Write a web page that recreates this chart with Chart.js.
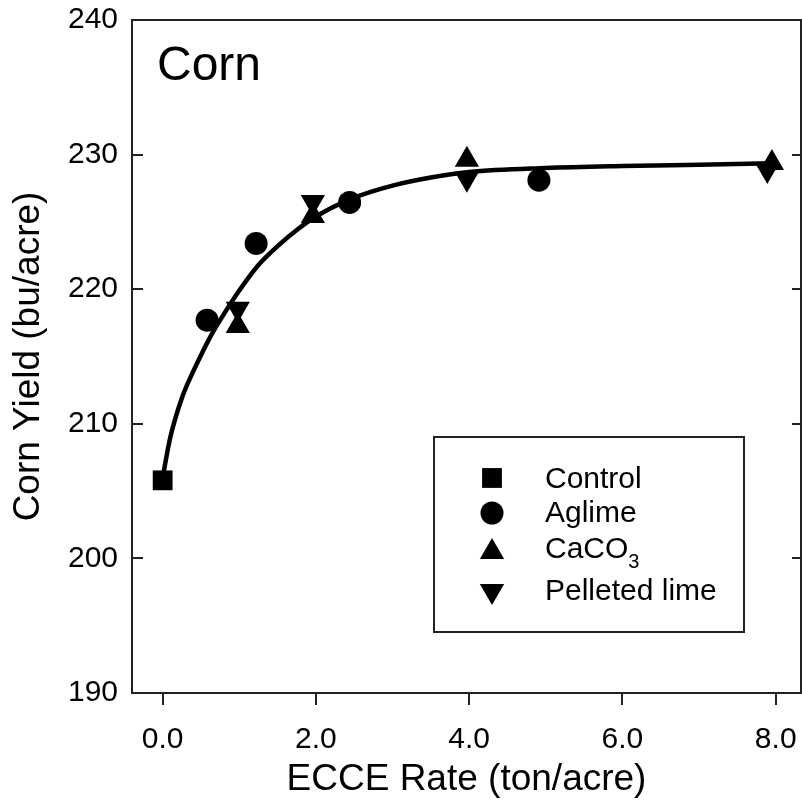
<!DOCTYPE html>
<html>
<head>
<meta charset="utf-8">
<script src="https://cdn.jsdelivr.net/npm/chart.js@4"></script>
<style>
  body { margin: 0; background: #fff; }
  canvas { display: block; }
</style>
</head>
<body>
<canvas id="yieldChart" width="802" height="804"></canvas>
<script>
// tick labels
const xTickValues = [0, 2, 4, 6, 8];
const yTickValues = [190, 200, 210, 220, 230, 240];

// observed yields (bu/acre) by ECCE rate (ton/acre)
const controlX = [0];
const controlY = [205.8];
const aglimeX = [0.58, 1.22, 2.44, 4.91];
const aglimeY = [217.7, 223.4, 226.45, 228.1];
const caco3X = [0.98, 1.96, 3.97, 7.95];
const caco3Y = [217.27, 225.44, 229.62, 229.38];
const pelletedX = [0.98, 1.96, 3.97, 7.89];
const pelletedY = [218.55, 226.48, 228.21, 228.86];

// fitted response curve
const fitX = [0, 0.1, 0.25, 0.375, 0.5, 0.625, 0.75, 1.0, 1.25, 1.5, 1.75, 2.0, 2.5, 3.0, 3.5, 4.0, 5.0, 6.0, 7.0, 7.96];
const fitY = [206.0, 209.0, 211.9, 213.6, 215.1, 216.5, 217.7, 219.9, 221.8, 223.2, 224.4, 225.4, 226.8, 227.7, 228.3, 228.7, 229.0, 229.15, 229.25, 229.35];

const FONT = "'Liberation Sans', Arial, sans-serif";

function toPoints(xs, ys) {
  return xs.map((x, i) => ({ x: x, y: ys[i] }));
}

function markerSet(label, xs, ys, style, radius, rotation) {
  return {
    label: label,
    data: toPoints(xs, ys),
    showLine: false,
    pointStyle: style,
    pointRadius: radius,
    pointRotation: rotation || 0,
    backgroundColor: "#000",
    borderColor: "#000",
    borderWidth: 0,
  };
}

// keep the plot box exactly where the layout padding puts it
function noLabelPadding(axis) {
  axis.paddingLeft = 0;
  axis.paddingRight = 0;
  axis.paddingTop = 0;
  axis.paddingBottom = 0;
}

// frame box with inward y ticks and outward x ticks
const framePlugin = {
  id: "frame",
  afterDatasetsDraw(chart) {
    const ctx = chart.ctx;
    const area = chart.chartArea;
    const xs = chart.scales.x;
    const ys = chart.scales.y;
    ctx.save();
    ctx.strokeStyle = "#222";
    ctx.lineWidth = 2;
    ctx.strokeRect(area.left, area.top, area.right - area.left, area.bottom - area.top);
    ctx.beginPath();
    yTickValues.forEach((v) => {
      const py = Math.round(ys.getPixelForValue(v));
      ctx.moveTo(area.left, py);
      ctx.lineTo(area.left + 11, py);
      ctx.moveTo(area.right, py);
      ctx.lineTo(area.right - 9, py);
    });
    xTickValues.forEach((v) => {
      const px = Math.round(xs.getPixelForValue(v));
      ctx.moveTo(px, area.bottom);
      ctx.lineTo(px, area.bottom + 12);
    });
    ctx.stroke();

    // panel label
    ctx.fillStyle = "#000";
    ctx.font = "48px " + FONT;
    ctx.textBaseline = "alphabetic";
    ctx.textAlign = "left";
    ctx.fillText("Corn", 157, 80);
    ctx.restore();
  },
};

// boxed legend with subscript for CaCO3
const legendPlugin = {
  id: "boxLegend",
  afterDraw(chart) {
    const ctx = chart.ctx;
    const draw = Chart.helpers.drawPoint;
    ctx.save();
    ctx.strokeStyle = "#222";
    ctx.lineWidth = 2;
    ctx.strokeRect(434, 437, 310, 195);

    ctx.fillStyle = "#000";
    ctx.strokeStyle = "#000";
    ctx.lineWidth = 0;
    draw(ctx, { pointStyle: "rect", radius: 14, rotation: 0, borderWidth: 0 }, 492, 478);
    draw(ctx, { pointStyle: "circle", radius: 11.5, rotation: 0, borderWidth: 0 }, 492, 513);
    draw(ctx, { pointStyle: "triangle", radius: 14, rotation: 0, borderWidth: 0 }, 492, 552);
    draw(ctx, { pointStyle: "triangle", radius: 14, rotation: 180, borderWidth: 0 }, 492, 591);

    ctx.font = "30px " + FONT;
    ctx.textAlign = "left";
    ctx.textBaseline = "alphabetic";
    ctx.fillText("Control", 545, 488);
    ctx.fillText("Aglime", 545, 522);
    ctx.fillText("CaCO", 545, 558);
    const w = ctx.measureText("CaCO").width;
    ctx.font = "20px " + FONT;
    ctx.fillText("3", 545 + w, 568);
    ctx.font = "30px " + FONT;
    ctx.fillText("Pelleted lime", 545, 600);
    ctx.restore();
  },
};

const config = {
  type: "scatter",
  data: {
    datasets: [
      markerSet("Control", controlX, controlY, "rect", 14),
      markerSet("Aglime", aglimeX, aglimeY, "circle", 11.5),
      markerSet("CaCO3", caco3X, caco3Y, "triangle", 14),
      markerSet("Pelleted lime", pelletedX, pelletedY, "triangle", 14, 180),
      {
        label: "Fit",
        data: toPoints(fitX, fitY),
        showLine: true,
        pointRadius: 0,
        borderColor: "#000",
        borderWidth: 4.5,
        cubicInterpolationMode: "monotone",
        fill: false,
      },
    ],
  },
  options: {
    responsive: false,
    animation: false,
    layout: {
      autoPadding: false,
      padding: { top: 20, right: 1, left: 0, bottom: 0 },
    },
    plugins: {
      legend: { display: false },
      tooltip: { enabled: false },
    },
    scales: {
      x: {
        type: "linear",
        min: -0.4,
        max: 8.33,
        afterBuildTicks: (axis) => {
          axis.ticks = xTickValues.map((v) => ({ value: v }));
        },
        afterFit: (axis) => {
          axis.height = 111;
          noLabelPadding(axis);
        },
        grid: { display: false, drawTicks: false },
        border: { display: false },
        ticks: {
          color: "#000",
          padding: 29,
          maxRotation: 0,
          font: { family: FONT, size: 30 },
          callback: (v) => Number(v).toFixed(1),
        },
        title: {
          display: true,
          text: "ECCE Rate (ton/acre)",
          color: "#000",
          padding: { top: 0, bottom: 2 },
          font: { family: FONT, size: 37 },
        },
      },
      y: {
        type: "linear",
        min: 190,
        max: 240,
        afterBuildTicks: (axis) => {
          axis.ticks = yTickValues.map((v) => ({ value: v }));
        },
        afterFit: (axis) => {
          axis.width = 132;
          noLabelPadding(axis);
        },
        grid: { display: false, drawTicks: false },
        border: { display: false },
        ticks: {
          color: "#000",
          padding: 14,
          font: { family: FONT, size: 30 },
        },
        title: {
          display: true,
          text: "Corn Yield (bu/acre)",
          color: "#000",
          padding: { top: 7, bottom: 0 },
          font: { family: FONT, size: 37 },
        },
      },
    },
  },
  plugins: [framePlugin, legendPlugin],
};

const ctx = document.getElementById("yieldChart").getContext("2d");
const yieldChart = new Chart(ctx, config);
</script>
</body>
</html>
